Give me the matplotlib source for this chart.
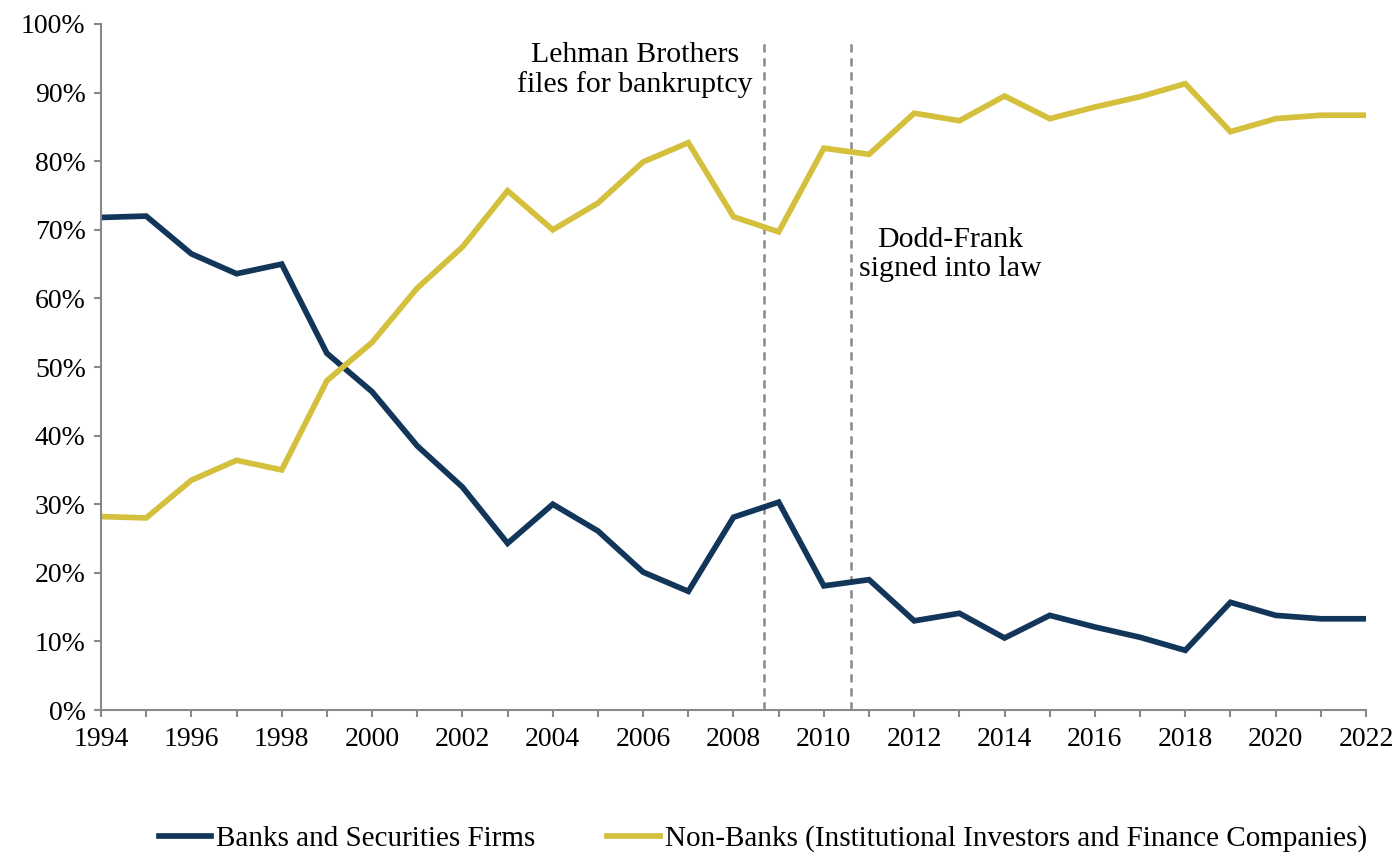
import numpy as np
import matplotlib.pyplot as plt
from matplotlib.ticker import PercentFormatter

plt.rcParams['font.family'] = ['Liberation Serif', 'DejaVu Serif']

years = list(range(1994, 2023))
banks = [71.8, 72.0, 66.5, 63.6, 65.0, 52.0, 46.4, 38.5, 32.5, 24.3,
         30.0, 26.1, 20.1, 17.3, 28.1, 30.3, 18.1, 19.0, 13.0, 14.1,
         10.5, 13.8, 12.1, 10.6, 8.7, 15.7, 13.8, 13.3, 13.3]
non_banks = [28.2, 28.0, 33.5, 36.4, 35.0, 48.0, 53.6, 61.5, 67.5, 75.7,
             70.0, 73.9, 79.9, 82.7, 71.9, 69.7, 81.9, 81.0, 87.0, 85.9,
             89.5, 86.2, 87.9, 89.4, 91.3, 84.3, 86.2, 86.7, 86.7]
events = [2008.67, 2010.6]

navy = '#12355a'
gold = '#d4c03c'
grey = '#898989'

fig = plt.figure(figsize=(13.97, 8.57), dpi=100)
ax = fig.add_axes([0.0723, 0.1715, 0.9055, 0.8005])

ax.plot(years, banks, color=navy, lw=4.1, solid_joinstyle='miter',
        label='Banks and Securities Firms')
ax.plot(years, non_banks, color=gold, lw=4.1, solid_joinstyle='miter',
        label='Non-Banks (Institutional Investors and Finance Companies)')

for x in events:
    ax.plot([x, x], [0, 98], color=grey, lw=1.8, ls=(0, (3.3, 2.3)), zorder=1)

ax.text(2005.82, 93.3, 'Lehman Brothers\nfiles for bankruptcy', ha='center', va='center',
        fontsize=21.5, linespacing=1.12)
ax.text(2012.8, 66.4, 'Dodd-Frank\nsigned into law', ha='center', va='center',
        fontsize=21.5, linespacing=1.12)

ax.set_xlim(1994, 2022)
ax.set_ylim(0, 100)
ax.set_xticks(range(1994, 2023, 2))
ax.set_xticks(range(1994, 2023), minor=True)
ax.set_yticks(range(0, 101, 10))
ax.yaxis.set_major_formatter(PercentFormatter(decimals=0))

for s in ['top', 'right']:
    ax.spines[s].set_visible(False)
for s in ['left', 'bottom']:
    ax.spines[s].set_color(grey)
    ax.spines[s].set_linewidth(1.5)
ax.tick_params(which='both', color=grey, width=1.5, length=5, labelsize=20, pad=6)
ax.tick_params(axis='x', pad=7)

fig.legend(loc='center', bbox_to_anchor=(0.546, 0.021), ncol=2, frameon=False,
           fontsize=21, handlelength=1.8, handletextpad=0.17, columnspacing=2.45,
           borderpad=0.1)

fig.savefig('out.png', dpi=100)
